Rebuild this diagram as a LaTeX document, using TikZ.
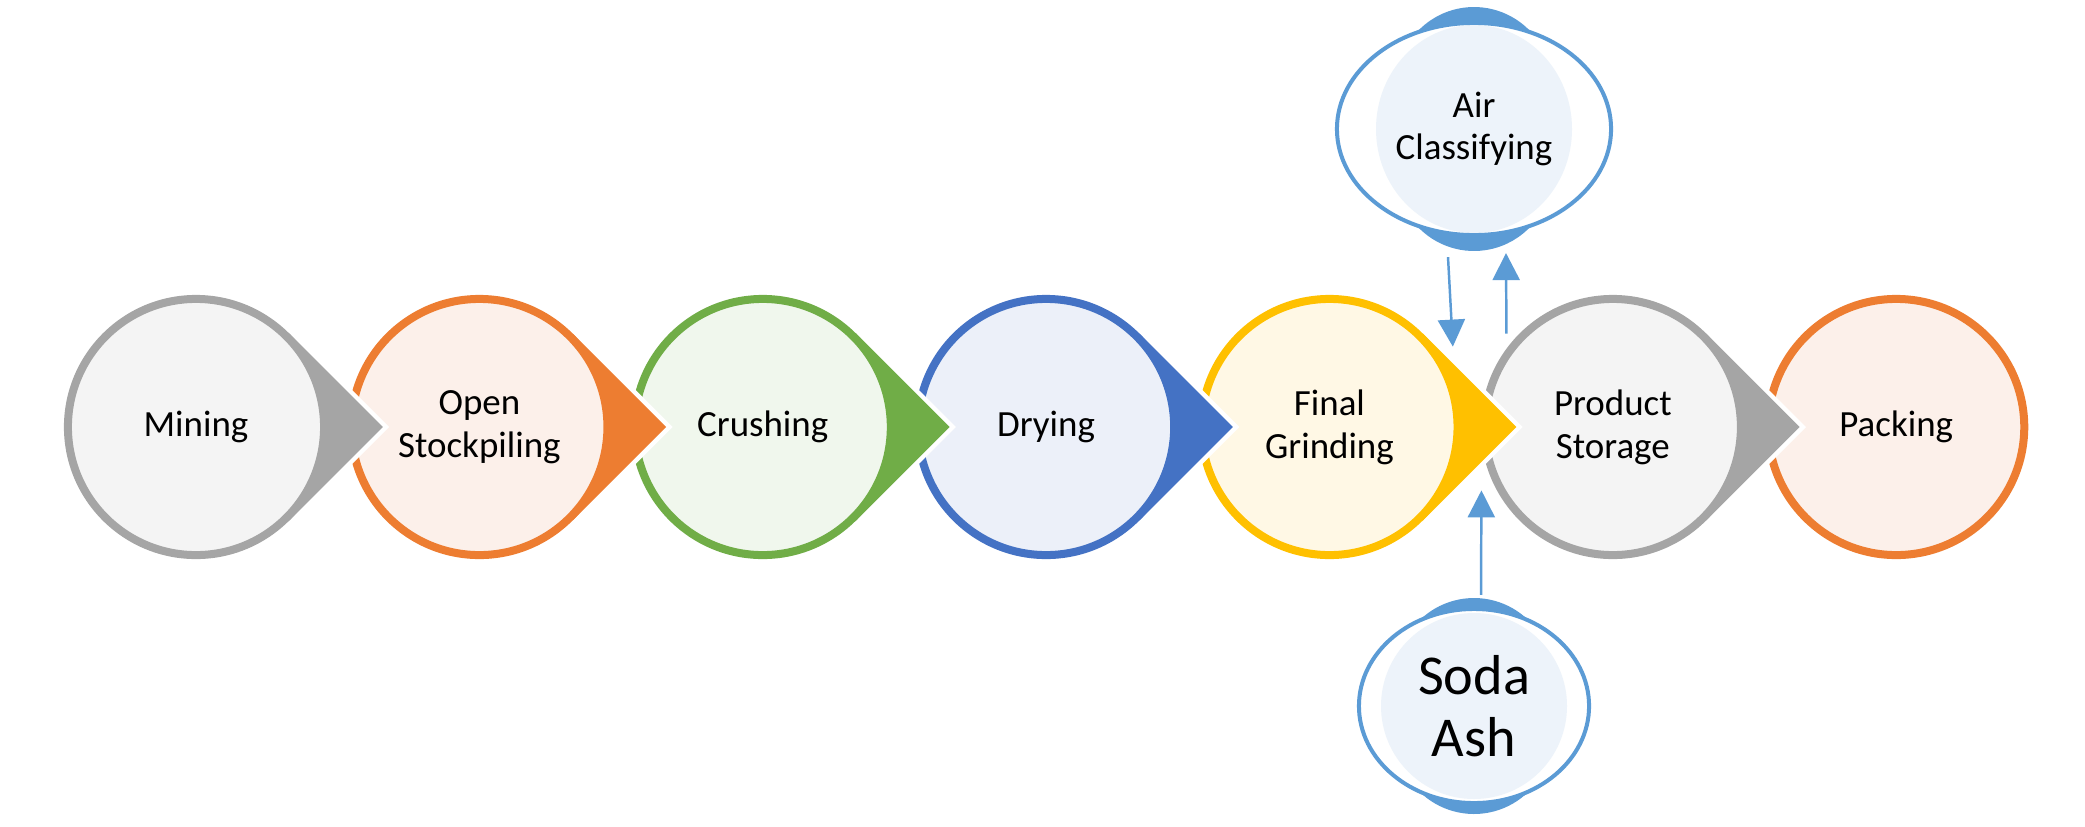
\documentclass[tikz,border=0pt]{standalone}
\usepackage{fontspec}
\setmainfont{Carlito}
\usetikzlibrary{arrows.meta,positioning,calc,shapes.geometric}
\definecolor{stonegray}{HTML}{A5A5A5}
\definecolor{palegray}{HTML}{F4F4F4}
\definecolor{rust}{HTML}{ED7D31}
\definecolor{palerust}{HTML}{FCF0EA}
\definecolor{leaf}{HTML}{70AD47}
\definecolor{paleleaf}{HTML}{F0F7ED}
\definecolor{cobalt}{HTML}{4472C4}
\definecolor{palecobalt}{HTML}{ECF0F9}
\definecolor{amber}{HTML}{FFC000}
\definecolor{paleamber}{HTML}{FFF8E5}
\definecolor{sky}{HTML}{5B9BD5}
\definecolor{palesky}{HTML}{EDF3FA}

\begin{document}
\begin{tikzpicture}[
  x=0.01cm,y=0.01cm,
  node distance=0.192cm,
  every node/.style={font=\fontsize{10.5}{12.2}\selectfont,align=center,inner sep=0pt},
  stage/.style 2 args={circle,draw=#1,fill=#2,line width=0.08cm,minimum size=2.56cm},
  bubble/.style={ellipse,draw=sky,fill=white,line width=0.04cm},
  flow/.style={-{Triangle[length=0.27cm,width=0.27cm]},line width=0.7pt,color=sky}
]
\useasboundingbox (0,0) rectangle (2085,826);
\node[stage={stonegray}{palegray}] (mining) at (196,399) {Mining};
\node[stage={rust}{palerust},right=of mining] (stockpile) {Open\\Stockpiling};
\node[stage={leaf}{paleleaf},right=of stockpile] (crushing) {Crushing};
\node[stage={cobalt}{palecobalt},right=of crushing] (drying) {Drying};
\node[stage={amber}{paleamber},right=of drying] (grinding) {Final\\Grinding};
\node[stage={stonegray}{palegray},right=of grinding] (storage) {Product\\Storage};
\node[stage={rust}{palerust},right=of storage] (packing) {Packing};
% pointed tips
\foreach \n/\c in {mining/stonegray,stockpile/rust,crushing/leaf,drying/cobalt,grinding/amber,storage/stonegray}{
  \coordinate (tip) at ($(\n.center)!1.4142!(\n.east)$);
  \draw[white,line width=0.09cm] ($(\n.45)!0.4!(tip)$) -- (tip) -- ($(\n.-45)!0.4!(tip)$);
  \fill[\c] (\n.-45) -- (tip) -- (\n.45) -- ($(\n.center)+(45:126)$) arc[start angle=45,end angle=-45,radius=126] -- cycle;
}
\node[bubble,minimum width=2.74cm,minimum height=2.12cm,
  path picture={\fill[palesky] (path picture bounding box.center) ellipse[x radius=98,y radius=104];}] (air) at (1474,697) {Air\\Classifying};
\fill[sky] ($(air.center)+(0,44.5)$) ++(42.3:77.5) arc[start angle=42.3,end angle=137.7,radius=77.5]
  -- ($(air.center)+(114.6:137 and 106)$) arc[start angle=114.6,end angle=65.4,x radius=137,y radius=106] -- cycle;
\fill[sky] ($(air.center)+(0,-44.5)$) ++(-137.7:77.5) arc[start angle=-137.7,end angle=-42.3,radius=77.5]
  -- ($(air.center)+(-65.4:137 and 106)$) arc[start angle=-65.4,end angle=-114.6,x radius=137,y radius=106] -- cycle;
\node[bubble,minimum width=2.30cm,minimum height=1.94cm,font=\fontsize{16}{17.6}\selectfont,
  path picture={\fill[palesky] (path picture bounding box.center) circle[radius=93];}] (soda) at (1474,120) {Soda\\Ash};
\fill[sky] ($(soda.center)+(0,30.3)$) ++(44.9:77.7) arc[start angle=44.9,end angle=135.1,radius=77.7]
  -- ($(soda.center)+(118.6:115 and 97)$) arc[start angle=118.6,end angle=61.4,x radius=115,y radius=97] -- cycle;
\fill[sky] ($(soda.center)+(0,-30.3)$) ++(-135.1:77.7) arc[start angle=-135.1,end angle=-44.9,radius=77.7]
  -- ($(soda.center)+(-61.4:115 and 97)$) arc[start angle=-61.4,end angle=-118.6,x radius=115,y radius=97] -- cycle;
\draw[flow] ($(air.south)+(-26,-20)$) -- ($(grinding.45)+(30,-13)$);
\draw[flow] ($(storage.135)+(-13,0)$) -- ($(air.south)+(32,-16)$);
\draw[flow] ($(soda.north)+(7,12)$) -- ($(storage.225)+(-38,30)$);
\end{tikzpicture}
\end{document}
